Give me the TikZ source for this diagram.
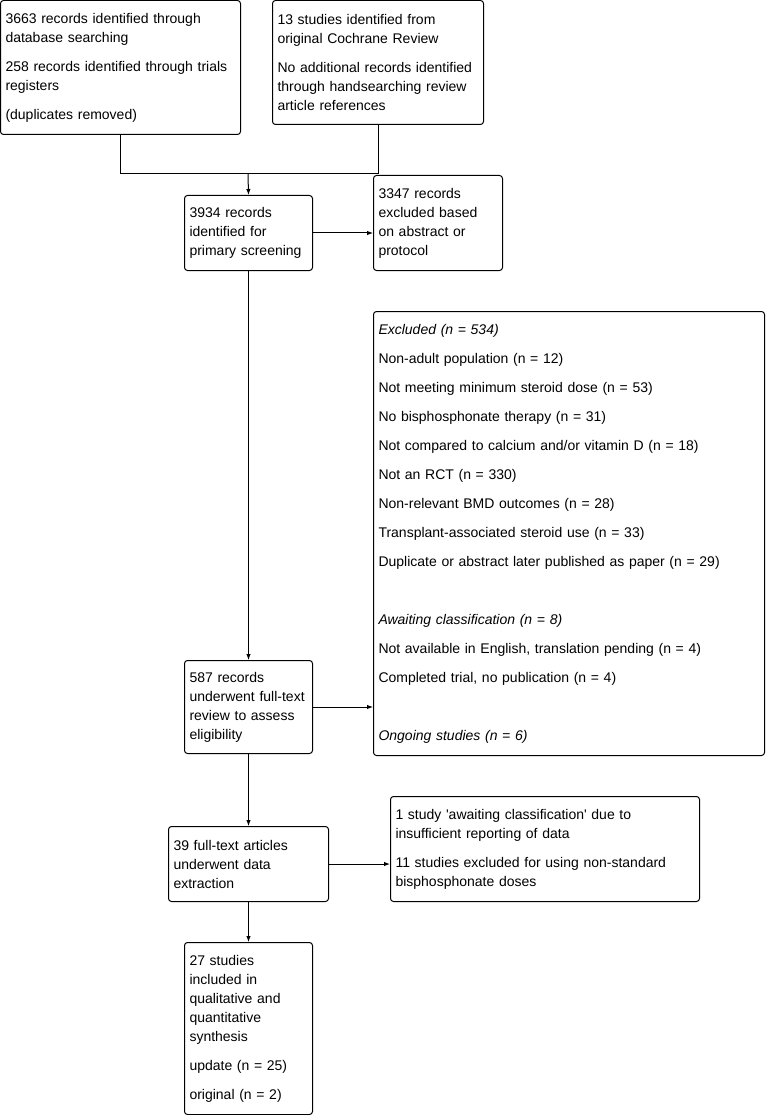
\documentclass[tikz,border=0pt]{standalone}
\usepackage{fontspec}
\setmainfont{Liberation Sans}
\usetikzlibrary{arrows.meta,calc}
\tikzset{
  FlowBox/.style={draw, line width=1pt, rounded corners=3pt, anchor=north west,
    align=left, inner xsep=5pt, inner ysep=0pt, font=\fontsize{14}{19}\selectfont},
  FlowLine/.style={line width=1pt},
  FlowArrow/.style={line width=1pt, -{Latex[length=6pt,width=4.5pt]}},
}
\newcommand{\ParGap}{\\[10pt]}

\begin{document}
\begin{tikzpicture}[x=1pt,y=-1pt]
\useasboundingbox (0,0) rectangle (767,1115);
% identification
\node[FlowBox, text width=230pt, minimum height=134pt] (search) at (0,0)
  {3663 records identified through\\database searching\ParGap
   258 records identified through trials\\registers\ParGap
   (duplicates removed)};
\node[FlowBox, text width=201pt, minimum height=124pt] (cochrane) at (272,0)
  {13 studies identified from\\original Cochrane Review\ParGap
   No additional records identified\\through handsearching review\\article references};
% screening
\node[FlowBox, text width=118pt, minimum height=75pt] (screen) at (184,195)
  {3934 records\\identified for\\primary screening};
\node[FlowBox, text width=119pt, minimum height=95pt] (abstract) at (373,175)
  {3347 records\\excluded based\\on abstract or\\protocol};
% eligibility
\node[FlowBox, text width=118pt, minimum height=93pt] (fulltext) at (184,660)
  {587 records\\underwent full-text\\review to assess\\eligibility};
\node[FlowBox, text width=381pt, minimum height=444pt] (excluded) at (373,311)
  {\textit{Excluded (n = 534)}\ParGap
   Non-adult population (n = 12)\ParGap
   Not meeting minimum steroid dose (n = 53)\ParGap
   No bisphosphonate therapy (n = 31)\ParGap
   Not compared to calcium and/or vitamin D (n = 18)\ParGap
   Not an RCT (n = 330)\ParGap
   Non-relevant BMD outcomes (n = 28)\ParGap
   Transplant-associated steroid use (n = 33)\ParGap
   Duplicate or abstract later published as paper (n = 29)\\[39pt]
   \textit{Awaiting classification (n = 8)}\ParGap
   Not available in English, translation pending (n = 4)\ParGap
   Completed trial, no publication (n = 4)\\[39pt]
   \textit{Ongoing studies (n = 6)}};
\node[FlowBox, text width=150pt, minimum height=75pt] (extract) at (168,826)
  {39 full-text articles\\underwent data\\extraction};
\node[FlowBox, text width=299pt, minimum height=105pt] (dropped) at (390,796)
  {1 study \textquotesingle awaiting classification\textquotesingle{} due to\\insufficient reporting of data\ParGap
   11 studies excluded for using non-standard\\bisphosphonate doses};
% included
\node[FlowBox, text width=118pt, minimum height=172pt] (included) at (184,942)
  {27 studies\\included in\\qualitative and\\quantitative\\synthesis\ParGap
   update (n = 25)\ParGap
   original (n = 2)};
% connectors
\coordinate (join) at (248,174);
\draw[FlowLine] (search.south) |- (cochrane.south |- join) -- (cochrane.south);
\draw[FlowArrow] (join) -- (screen.north);
\draw[FlowArrow] (screen.east) -- (screen.east -| abstract.west);
\draw[FlowArrow] (screen.south) -- (fulltext.north);
\draw[FlowArrow] (fulltext.east) -- (fulltext.east -| excluded.west);
\draw[FlowArrow] (fulltext.south) -- (extract.north);
\draw[FlowArrow] (extract.east) -- (extract.east -| dropped.west);
\draw[FlowArrow] (extract.south) -- (included.north);
\end{tikzpicture}
\end{document}
